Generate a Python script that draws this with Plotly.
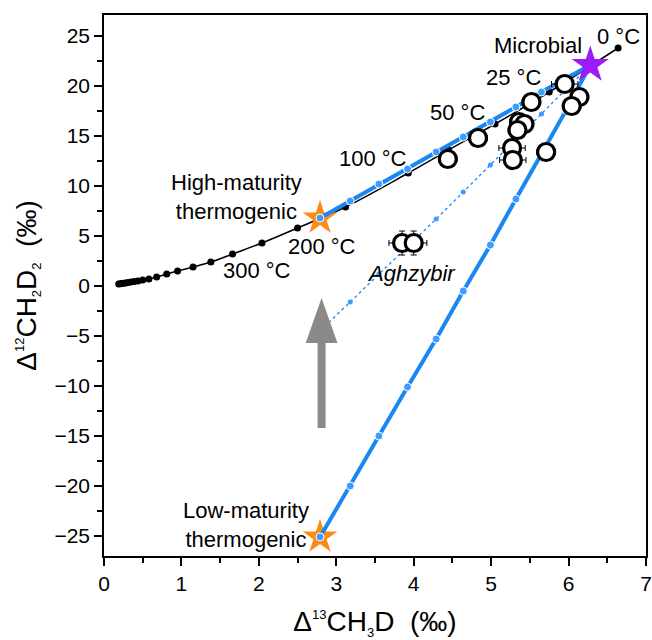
import plotly.graph_objects as go

# ---------------- data ----------------
# equilibrium curve (temperature points)
eq_x = [6.64, 5.75, 5.05, 4.45, 3.93, 3.12, 2.50, 2.04, 1.66, 1.38, 1.15, 0.95, 0.81, 0.68, 0.58,
        0.50, 0.44, 0.39, 0.35, 0.31, 0.28, 0.25, 0.23, 0.21, 0.19]
eq_y = [23.8, 19.4, 16.2, 13.6, 11.3, 7.9, 5.8, 4.3, 3.2, 2.4, 1.9, 1.5, 1.2, 0.9, 0.7,
        0.6, 0.5, 0.45, 0.4, 0.35, 0.3, 0.27, 0.25, 0.22, 0.2]

# end-members
hm_x, hm_y = 2.79, 6.8      # high-maturity thermogenic
lm_x, lm_y = 2.79, -25.1    # low-maturity thermogenic
mic_x, mic_y = 6.28, 22.1   # microbial

# mixing lines (10 % steps)
mix_x = [2.79, 3.18, 3.55, 3.92, 4.29, 4.64, 4.99, 5.32, 5.65, 5.97, 6.28]
mix_hm_y = [6.8, 8.5, 10.2, 11.7, 13.4, 14.9, 16.4, 17.9, 19.4, 20.8, 22.1]
mix_lm_y = [-25.1, -20.0, -15.0, -10.1, -5.3, -0.5, 4.1, 8.7, 13.2, 17.6, 22.1]
mix_mid_y = [-4.5, -1.6, 1.2, 4.0, 6.7, 9.4, 12.1, 14.7, 17.2, 19.7, 22.1]

# samples
smp_x = [5.95, 6.14, 6.04, 5.52, 5.36, 5.43, 5.34, 4.83, 4.44, 5.27, 5.28, 5.71]
smp_y = [20.2, 18.9, 18.0, 18.4, 16.4, 16.2, 15.6, 14.8, 12.7, 13.8, 12.6, 13.4]
smp_ex = [0.17, 0.12, 0.12, 0.12, 0.12, 0.12, 0.12, 0.12, 0.12, 0.17, 0.17, 0.12]
smp_ey = [0.6] * 12

agh_x = [3.85, 4.00]
agh_y = [4.3, 4.3]
agh_ex = [0.17, 0.17]
agh_ey = [1.2, 1.2]

# temperature labels
t_labels = ["0 °C", "25 °C", "50 °C", "100 °C", "200 °C", "300 °C"]
t_lab_x = [6.65, 5.29, 4.57, 3.48, 2.81, 1.97]
t_lab_y = [25.0, 20.9, 17.4, 12.8, 4.0, 1.6]

# arrow (gray)
arr_x = 2.81
arr_tip, arr_base, arr_bottom = -1.2, -5.7, -14.2
arr_head_hw, arr_shaft_hw = 0.205, 0.052

FONT = "Arial, Liberation Sans, sans-serif"
BLUE = "#1a88f0"
DOT = "#3d9cff"
ORANGE = "#ff8a14"
PURPLE = "#9b1cf8"

fig = go.Figure()

# equilibrium curve
fig.add_trace(go.Scatter(x=eq_x, y=eq_y, mode="lines+markers",
                         line=dict(color="black", width=1.5, shape="spline"),
                         marker=dict(color="black", size=7), hoverinfo="skip"))

# orange stars
fig.add_trace(go.Scatter(x=[hm_x, lm_x], y=[hm_y, lm_y], mode="markers",
                         marker=dict(symbol="star", size=26, color=ORANGE,
                                     line=dict(width=0))))

# dotted mixing line
fig.add_trace(go.Scatter(x=mix_x, y=mix_mid_y, mode="lines+markers",
                         line=dict(color=BLUE, width=1.3, dash="dot"),
                         marker=dict(color=DOT, size=5)))

# thick mixing lines
for yy in (mix_hm_y, mix_lm_y):
    fig.add_trace(go.Scatter(x=mix_x, y=yy, mode="lines+markers",
                             line=dict(color=BLUE, width=4),
                             marker=dict(color=DOT, size=8, line=dict(color="white", width=1))))

# samples
fig.add_trace(go.Scatter(x=smp_x, y=smp_y, mode="markers",
                         error_x=dict(type="data", array=smp_ex, color="black", thickness=1, width=3),
                         error_y=dict(type="data", array=smp_ey, color="black", thickness=1, width=3),
                         marker=dict(symbol="circle", size=17, color="white",
                                     line=dict(color="black", width=3.2))))
fig.add_trace(go.Scatter(x=agh_x, y=agh_y, mode="markers",
                         error_x=dict(type="data", array=agh_ex, color="black", thickness=1, width=3),
                         error_y=dict(type="data", array=agh_ey, color="black", thickness=1, width=3),
                         marker=dict(symbol="circle", size=17, color="white",
                                     line=dict(color="black", width=3.2))))

# microbial star
fig.add_trace(go.Scatter(x=[mic_x], y=[mic_y], mode="markers",
                         marker=dict(symbol="star", size=28, color=PURPLE, line=dict(width=0))))

# gray arrow
path = (f"M {arr_x - arr_shaft_hw},{arr_bottom} L {arr_x - arr_shaft_hw},{arr_base} "
        f"L {arr_x - arr_head_hw},{arr_base} L {arr_x},{arr_tip} L {arr_x + arr_head_hw},{arr_base} "
        f"L {arr_x + arr_shaft_hw},{arr_base} L {arr_x + arr_shaft_hw},{arr_bottom} Z")
fig.add_shape(type="path", path=path, xref="x", yref="y",
              fillcolor="#8a8a8a", line=dict(width=0), layer="above")

AF = dict(size=22, family=FONT, color="black")
ann = []
for t, xx, yy in zip(t_labels, t_lab_x, t_lab_y):
    ann.append(dict(x=xx, y=yy, text=t, showarrow=False, font=AF))
ann.append(dict(x=5.60, y=24.1, text="Microbial", showarrow=False, font=AF))
ann.append(dict(x=1.71, y=8.9, text="High-maturity<br>thermogenic", showarrow=False, align="center", font=AF))
ann.append(dict(x=1.84, y=-23.9, text="Low-maturity<br>thermogenic", showarrow=False, align="center", font=AF))
ann.append(dict(x=3.97, y=1.3, text="<i>Aghzybir</i>", showarrow=False, font=AF))

def small(s, tag):
    return f'<{tag}><span style="font-size:13px">{s}</span></{tag}>'

x_title = "Δ" + small("13", "sup") + "CH" + small("3", "sub") + "D\u00a0\u00a0(‰)"
y_title = "Δ" + small("12", "sup") + "CH" + small("2", "sub") + "D" + small("2", "sub") + "\u00a0\u00a0(‰)"

axis_common = dict(showline=True, linecolor="black", linewidth=1.5, mirror=True,
                   ticks="outside", ticklen=8, tickwidth=1.5, tickcolor="black",
                   showgrid=False, zeroline=False, automargin=False,
                   tickfont=dict(size=21, family=FONT, color="black"))

fig.update_layout(
    width=652, height=640,
    margin=dict(l=104, r=6, t=15, b=84),
    paper_bgcolor="white", plot_bgcolor="white",
    showlegend=False,
    annotations=ann,
    xaxis=dict(range=[0, 7], tick0=0, dtick=1, ticklabeloverflow="allow",
               minor=dict(ticks="outside", ticklen=5, dtick=0.5, tickcolor="black", tickwidth=1.5),
               title=dict(text=x_title, standoff=31,
                          font=dict(size=28, family=FONT, color="black")),
               **axis_common),
    yaxis=dict(range=[-27.0, 27.1], tick0=0, dtick=5,
               minor=dict(ticks="outside", ticklen=5, dtick=2.5, tickcolor="black", tickwidth=1.5),
               title=dict(text=y_title, standoff=10,
                          font=dict(size=28, family=FONT, color="black")),
               **axis_common),
)

fig.write_html("out.html", config={"displayModeBar": False},
               post_script="document.body.style.margin='0';document.body.style.overflow='hidden';")
